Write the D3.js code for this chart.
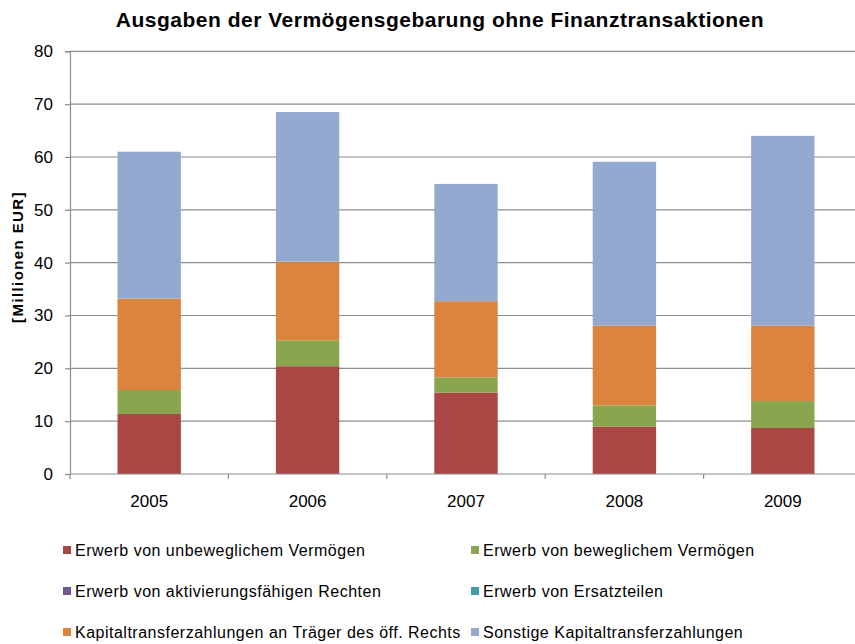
<!DOCTYPE html>
<html>
<head>
<meta charset="utf-8">
<script src="https://cdn.jsdelivr.net/npm/d3@7"></script>
<style>
  body { margin: 0; background: #fff; }
  svg { display: block; font-family: "Liberation Sans", Arial, sans-serif; }
</style>
</head>
<body>
<svg id="chart" width="855" height="644"></svg>
<script>
// data (Millionen EUR)
var years = ["2005", "2006", "2007", "2008", "2009"];
var seriesNames = [
    "Erwerb von unbeweglichem Vermögen",
    "Erwerb von beweglichem Vermögen",
    "Erwerb von aktivierungsfähigen Rechten",
    "Erwerb von Ersatzteilen",
    "Kapitaltransferzahlungen an Träger des öff. Rechts",
    "Sonstige Kapitaltransferzahlungen"
];
var unbeweglich   = [11.35, 20.4, 15.4, 9.0, 8.7];
var beweglich     = [4.55, 4.9, 2.9, 4.0, 5.1];
var rechte        = [0, 0, 0, 0, 0];
var ersatzteile   = [0, 0, 0, 0, 0];
var kapitalOeff   = [17.3, 14.9, 14.4, 15.1, 14.3];
var kapitalSonst  = [27.8, 28.3, 22.2, 31.0, 35.9];
var yTicks = [0, 10, 20, 30, 40, 50, 60, 70, 80];

var colors = ["#aa4643", "#89a54e", "#71588f", "#4198af", "#db843d", "#93a9cf"];

var svg = d3.select("#chart");
var plotL = 70, plotR = 862, plotT = 51.3, plotB = 474;

var rows = years.map(function(y, i) {
    return { year: y, s0: unbeweglich[i], s1: beweglich[i], s2: rechte[i],
             s3: ersatzteile[i], s4: kapitalOeff[i], s5: kapitalSonst[i] };
});
var keys = ["s0", "s1", "s2", "s3", "s4", "s5"];
var stacked = d3.stack().keys(keys)(rows);

var x = d3.scaleBand().domain(years).range([plotL, plotR])
    .paddingInner(0.6).paddingOuter(0.3);
var y = d3.scaleLinear().domain([0, 80]).range([plotB, plotT]);

// gridlines
svg.append("g").selectAll("line")
    .data(yTicks.filter(function(d) { return d > 0; }))
    .enter().append("line")
    .attr("x1", plotL).attr("x2", plotR)
    .attr("y1", function(d) { return y(d); })
    .attr("y2", function(d) { return y(d); })
    .attr("stroke", "#8c8c8c").attr("stroke-width", 1.2);

// bars
svg.append("g").selectAll("g")
    .data(stacked)
    .enter().append("g")
    .attr("fill", function(d, i) { return colors[i]; })
    .selectAll("rect")
    .data(function(d) { return d; })
    .enter().append("rect")
    .attr("x", function(d) { return x(d.data.year); })
    .attr("width", x.bandwidth())
    .attr("y", function(d) { return y(d[1]); })
    .attr("height", function(d) { return y(d[0]) - y(d[1]); });

// y axis
var yAxis = d3.axisLeft(y).tickValues(yTicks).tickSize(5).tickPadding(12);
var gy = svg.append("g").attr("transform", "translate(" + plotL + ",0)").call(yAxis);
gy.select(".domain").attr("stroke", "#8c8c8c").attr("stroke-width", 1.2);
gy.selectAll(".tick line").attr("stroke", "#8c8c8c").attr("stroke-width", 1.2);
gy.selectAll(".tick text").attr("font-size", 17).attr("fill", "#000")
    .attr("font-family", "Liberation Sans, Arial, sans-serif");

// x axis
var xAxis = d3.axisBottom(x).tickSize(0).tickPadding(21);
var gx = svg.append("g").attr("transform", "translate(0," + plotB + ")").call(xAxis);
gx.select(".domain").remove();
gx.selectAll(".tick text").attr("font-size", 17).attr("fill", "#000")
    .attr("font-family", "Liberation Sans, Arial, sans-serif");

svg.append("line")
    .attr("x1", plotL).attr("x2", plotR).attr("y1", plotB).attr("y2", plotB)
    .attr("stroke", "#8c8c8c").attr("stroke-width", 1.2);

// category boundary ticks
var bounds = d3.range(years.length + 1).map(function(i) { return plotL + i * x.step(); });
svg.append("g").selectAll("line")
    .data(bounds)
    .enter().append("line")
    .attr("x1", function(d) { return d; }).attr("x2", function(d) { return d; })
    .attr("y1", plotB).attr("y2", plotB + 5)
    .attr("stroke", "#8c8c8c").attr("stroke-width", 1.2);

// title
svg.append("text")
    .attr("x", 440).attr("y", 27)
    .attr("text-anchor", "middle")
    .attr("font-size", 21).attr("font-weight", "bold")
    .attr("letter-spacing", 0.5)
    .text("Ausgaben der Vermögensgebarung ohne Finanztransaktionen");

// y axis title
svg.append("text")
    .attr("transform", "translate(23,257) rotate(-90)")
    .attr("text-anchor", "middle")
    .attr("font-size", 15).attr("font-weight", "bold")
    .attr("letter-spacing", 1.4)
    .text("[Millionen EUR]");

// legend
var legendPos = [[63, 550], [471, 550], [63, 591], [471, 591], [63, 632], [471, 632]];
var legend = svg.append("g").selectAll("g")
    .data(seriesNames)
    .enter().append("g")
    .attr("transform", function(d, i) {
        return "translate(" + legendPos[i][0] + "," + legendPos[i][1] + ")";
    });
legend.append("rect")
    .attr("x", 0).attr("y", -4).attr("width", 8).attr("height", 8)
    .attr("fill", function(d, i) { return colors[i]; });
legend.append("text")
    .attr("x", 12).attr("y", 6)
    .attr("font-size", 16)
    .attr("letter-spacing", 0.5)
    .text(function(d) { return d; });
</script>
</body>
</html>
